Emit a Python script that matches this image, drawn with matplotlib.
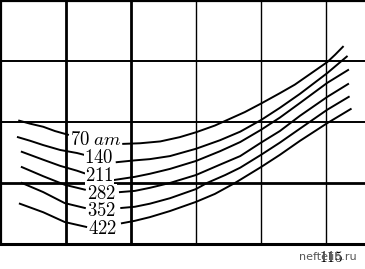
import matplotlib
matplotlib.use("Agg")
import matplotlib.pyplot as plt

plt.rcParams['mathtext.fontset'] = 'cm'

# pressure labels of the curves
labels = [r"$70\;am$", r"$140$", r"$211$", r"$282$", r"$352$", r"$422$"]

# each curve is cut by its label: left piece and right piece (grid units)
left_x = [
    [0.28, 0.45, 0.65, 0.83, 1.03],
    [0.26, 0.45, 0.65, 0.91, 1.17, 1.28],
    [0.32, 0.65, 0.91, 1.17, 1.28],
    [0.32, 0.65, 0.98, 1.29],
    [0.32, 0.65, 0.98, 1.29],
    [0.29, 0.65, 0.98, 1.31],
]
left_y = [
    [2.02, 1.97, 1.92, 1.85, 1.79],
    [1.75, 1.69, 1.62, 1.54, 1.49, 1.46],
    [1.51, 1.38, 1.28, 1.20, 1.16],
    [1.26, 1.11, 0.97, 0.89],
    [1.00, 0.85, 0.67, 0.59],
    [0.66, 0.52, 0.36, 0.28],
]
right_x = [
    [1.88, 2.14, 2.45, 2.75, 3.00, 3.29, 3.52, 3.75, 4.00, 4.29, 4.52, 4.75, 5.02, 5.14, 5.26],
    [1.78, 2.06, 2.29, 2.60, 3.00, 3.37, 3.68, 4.00, 4.29, 4.60, 5.02, 5.32],
    [1.75, 2.06, 2.29, 2.60, 3.00, 3.37, 3.68, 4.00, 4.29, 4.60, 5.02, 5.34],
    [1.83, 2.06, 2.29, 2.60, 3.00, 3.37, 3.68, 4.00, 4.29, 4.60, 5.02, 5.34],
    [1.85, 2.06, 2.29, 2.60, 3.00, 3.17, 3.45, 3.68, 4.00, 4.29, 4.60, 5.02, 5.35],
    [1.86, 2.06, 2.29, 2.60, 3.00, 3.29, 3.60, 4.00, 4.29, 4.60, 5.02, 5.38],
]
right_y = [
    [1.64, 1.65, 1.68, 1.75, 1.83, 1.94, 2.05, 2.16, 2.30, 2.47, 2.61, 2.78, 2.98, 3.10, 3.23],
    [1.34, 1.37, 1.39, 1.44, 1.56, 1.70, 1.84, 2.03, 2.23, 2.46, 2.80, 3.07],
    [1.05, 1.10, 1.15, 1.23, 1.36, 1.52, 1.67, 1.87, 2.07, 2.31, 2.64, 2.85],
    [0.85, 0.87, 0.92, 1.00, 1.13, 1.30, 1.44, 1.66, 1.85, 2.10, 2.41, 2.62],
    [0.59, 0.61, 0.66, 0.75, 0.90, 1.00, 1.13, 1.25, 1.46, 1.66, 1.89, 2.20, 2.41],
    [0.34, 0.38, 0.44, 0.54, 0.69, 0.82, 1.00, 1.26, 1.46, 1.69, 1.98, 2.21],
]

fig = plt.figure(figsize=(3.65, 2.69), dpi=100)
ax = fig.add_axes([1 / 365, 25 / 269, 364 / 365, 243 / 269])
ax.set_xlim(0, 5.6)
ax.set_ylim(0, 3.98)

# grid: thin lines, a few heavier ones
for x in [3, 4, 5]:
    ax.axvline(x, color='black', lw=1.0, zorder=1)
for x in [1, 2]:
    ax.axvline(x, color='black', lw=2.0, zorder=1)
for y in [2, 3]:
    ax.axhline(y, color='black', lw=1.4, zorder=1)
ax.axhline(1, color='black', lw=2.0, zorder=1)

ax.set_xticks([])
ax.set_yticks([])
ax.spines['right'].set_visible(False)
ax.spines['left'].set_linewidth(1.6)
ax.spines['top'].set_linewidth(1.6)
ax.spines['bottom'].set_linewidth(2.2)

for i in range(len(labels)):
    ax.plot(left_x[i], left_y[i], color='black', lw=1.4, zorder=2)
    ax.plot(right_x[i], right_y[i], color='black', lw=1.4, zorder=2)

# label placement on the curves
label_pos = [(1.46, 1.71), (1.51, 1.41), (1.51, 1.12), (1.55, 0.83), (1.54, 0.55), (1.57, 0.26)]
for lab, (lx, ly) in zip(labels, label_pos):
    ax.text(lx, ly, lab, fontsize=13.5, ha='center', va='center', zorder=3,
            bbox=dict(fc='white', ec='none', pad=0.2))

fig.text(331 / 365, 1 - 258 / 269, r"$115$", fontsize=11, ha='center', va='center')
fig.text(328 / 365, 1 - 257 / 269, "neftelib.ru", fontsize=8, color='#555555',
         ha='center', va='center')

fig.savefig("out.png", dpi=100)
